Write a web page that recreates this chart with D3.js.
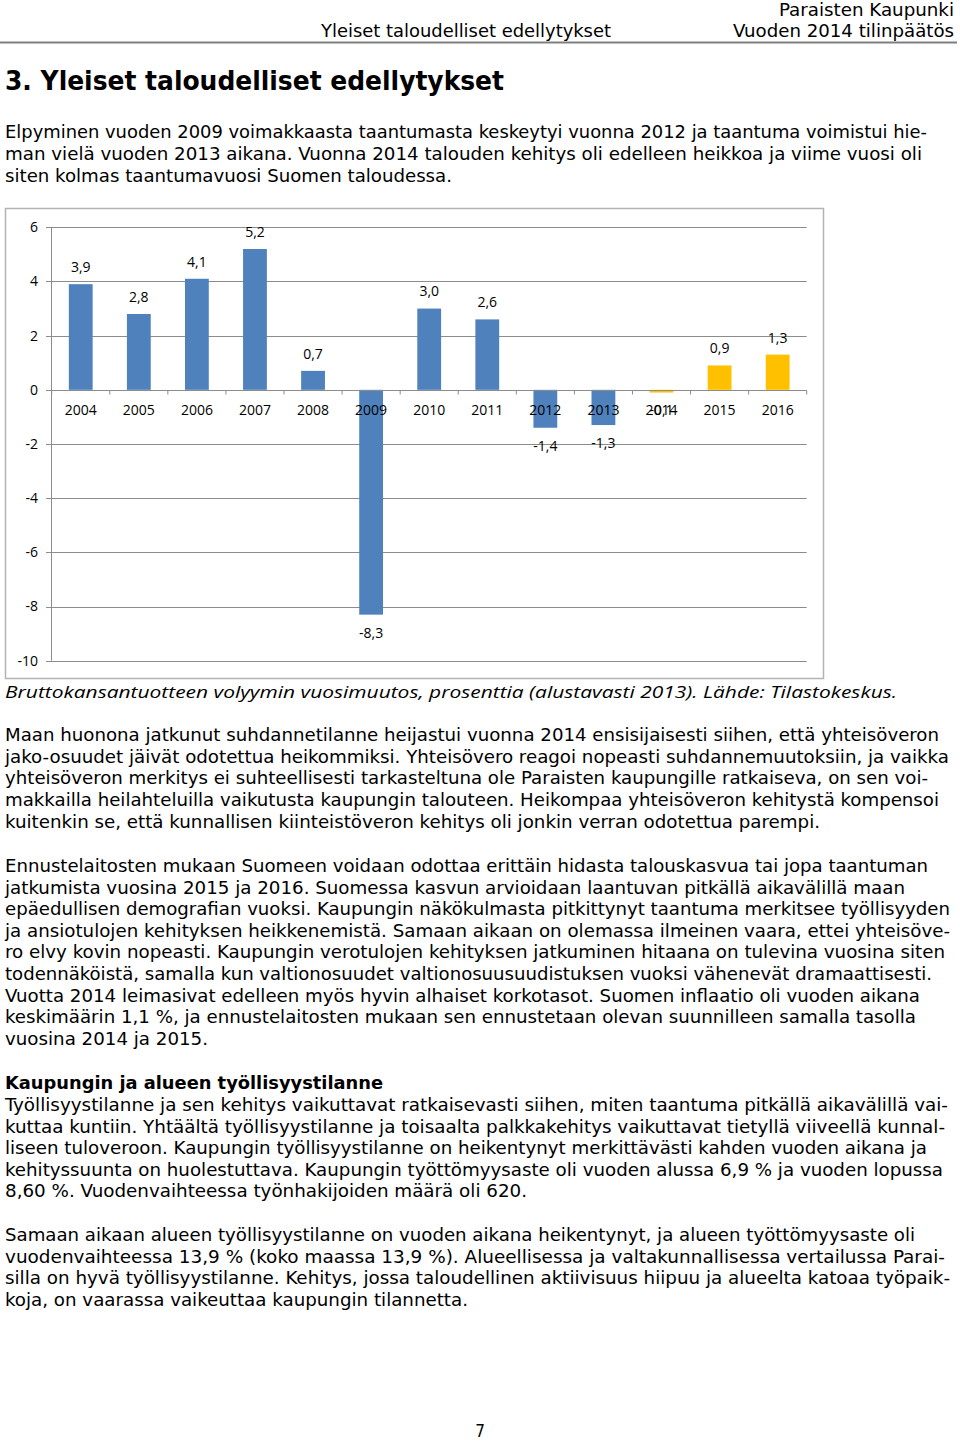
<!DOCTYPE html>
<html><head><meta charset="utf-8">
<script src="https://cdn.jsdelivr.net/npm/d3@7"></script>
<style>body{margin:0;background:#fff}svg{display:block}</style>
</head><body>
<svg id="page" width="960" height="1443"></svg>
<script>
// ---- chart data ----
const years = ["2004","2005","2006","2007","2008","2009","2010","2011","2012","2013","2014","2015","2016"];
const values = [3.9, 2.8, 4.1, 5.2, 0.7, -8.3, 3.0, 2.6, -1.4, -1.3, -0.1, 0.9, 1.3];
const forecast = [false,false,false,false,false,false,false,false,false,false,true,true,true];
const yTicks = [6, 4, 2, 0, -2, -4, -6, -8, -10];
const caption = "Bruttokansantuotteen volyymin vuosimuutos, prosenttia (alustavasti 2013). Lähde: Tilastokeskus.";

// ---- page text ----
const para1 = [
 ["Elpyminen vuoden 2009 voimakkaasta taantumasta keskeytyi vuonna 2012 ja taantuma voimistui hie-", 927],
 ["man vielä vuoden 2013 aikana. Vuonna 2014 talouden kehitys oli edelleen heikkoa ja viime vuosi oli", 922],
 ["siten kolmas taantumavuosi Suomen taloudessa.", 452]
];
const para2 = [
 ["Maan huonona jatkunut suhdannetilanne heijastui vuonna 2014 ensisijaisesti siihen, että yhteisöveron", 939],
 ["jako-osuudet jäivät odotettua heikommiksi. Yhteisövero reagoi nopeasti suhdannemuutoksiin, ja vaikka", 949],
 ["yhteisöveron merkitys ei suhteellisesti tarkasteltuna ole Paraisten kaupungille ratkaiseva, on sen voi-", 928],
 ["makkailla heilahteluilla vaikutusta kaupungin talouteen. Heikompaa yhteisöveron kehitystä kompensoi", 939],
 ["kuitenkin se, että kunnallisen kiinteistöveron kehitys oli jonkin verran odotettua parempi.", 820]
];
const para3 = [
 ["Ennustelaitosten mukaan Suomeen voidaan odottaa erittäin hidasta talouskasvua tai jopa taantuman", 928],
 ["jatkumista vuosina 2015 ja 2016. Suomessa kasvun arvioidaan laantuvan pitkällä aikavälillä maan", 905],
 ["epäedullisen demografian vuoksi. Kaupungin näkökulmasta pitkittynyt taantuma merkitsee työllisyyden", 950],
 ["ja ansiotulojen kehityksen heikkenemistä. Samaan aikaan on olemassa ilmeinen vaara, ettei yhteisöve-", 950],
 ["ro elvy kovin nopeasti. Kaupungin verotulojen kehityksen jatkuminen hitaana on tulevina vuosina siten", 945],
 ["todennäköistä, samalla kun valtionosuudet valtionosuusuudistuksen vuoksi vähenevät dramaattisesti.", 932],
 ["Vuotta 2014 leimasivat edelleen myös hyvin alhaiset korkotasot. Suomen inflaatio oli vuoden aikana", 920],
 ["keskimäärin 1,1 %, ja ennustelaitosten mukaan sen ennustetaan olevan suunnilleen samalla tasolla", 916],
 ["vuosina 2014 ja 2015.", 208]
];
const para4 = [
 ["Työllisyystilanne ja sen kehitys vaikuttavat ratkaisevasti siihen, miten taantuma pitkällä aikavälillä vai-", 948],
 ["kuttaa kuntiin. Yhtäältä työllisyystilanne ja toisaalta palkkakehitys vaikuttavat tietyllä viiveellä kunnal-", 945],
 ["liseen tuloveroon. Kaupungin työllisyystilanne on heikentynyt merkittävästi kahden vuoden aikana ja", 927],
 ["kehityssuunta on huolestuttava. Kaupungin työttömyysaste oli vuoden alussa 6,9 % ja vuoden lopussa", 943],
 ["8,60 %. Vuodenvaihteessa työnhakijoiden määrä oli 620.", 527]
];
const para5 = [
 ["Samaan aikaan alueen työllisyystilanne on vuoden aikana heikentynyt, ja alueen työttömyysaste oli", 915],
 ["vuodenvaihteessa 13,9 % (koko maassa 13,9 %). Alueellisessa ja valtakunnallisessa vertailussa Parai-", 945],
 ["silla on hyvä työllisyystilanne. Kehitys, jossa taloudellinen aktiivisuus hiipuu ja alueelta katoaa työpaik-", 950],
 ["koja, on vaarassa vaikeuttaa kaupungin tilannetta.", 468]
];

const svg = d3.select("#page");
const bodyFont = "'DejaVu Sans Condensed','DejaVu Sans',sans-serif";
const chartFont = "'Open Sans','Noto Sans',sans-serif";

function textLine(t, x, y, w, size, weight, anchor, style, family) {
  const el = svg.append("text").attr("x", x).attr("y", y)
    .attr("font-family", family || bodyFont).attr("font-size", size)
    .attr("font-weight", weight || "normal").attr("fill", "#000")
    .attr("text-anchor", anchor || "start").text(t);
  if (style) el.attr("font-style", style);
  if (w) el.attr("textLength", w).attr("lengthAdjust", "spacingAndGlyphs");
  return el;
}
function para(lines, y0, step) {
  lines.forEach((l, i) => textLine(l[0], 5, y0 + i * step, l[1] - 5, 17));
}

// header
textLine("Paraisten Kaupunki", 954, 16, 175, 18, null, "end");
textLine("Vuoden 2014 tilinpäätös", 954, 37, 221, 18, null, "end");
textLine("Yleiset taloudelliset edellytykset", 321, 37, 290, 18);
svg.append("line").attr("x1", 0).attr("x2", 957).attr("y1", 42.5).attr("y2", 42.5)
  .attr("stroke", "#7f7f7f").attr("stroke-width", 2);

textLine("3. Yleiset taloudelliset edellytykset", 5, 90, 499, 27, "bold");

para(para1, 138, 22);
para(para2, 741, 21.7);
para(para3, 872, 21.6);
textLine("Kaupungin ja alueen työllisyystilanne", 5, 1089, 378, 17, "bold");
para(para4, 1111, 21.6);
para(para5, 1241, 21.7);
textLine("7", 480, 1437, null, 17, null, "middle");

// ---- chart ----
svg.append("rect").attr("x", 5.5).attr("y", 208.5).attr("width", 818).attr("height", 470)
  .attr("fill", "#fff").attr("stroke", "#b3b3b3").attr("stroke-width", 1.5);

const x = d3.scaleBand().domain(years).range([51.7, 806.7]).paddingInner(0.59).paddingOuter(0.295);
const y = d3.scaleLinear().domain([-10, 6]).range([660.7, 227.3]);
const g = svg.append("g");

// gridlines
g.selectAll("line.grid").data(yTicks).join("line").attr("class", "grid")
  .attr("x1", 46).attr("x2", 806.7)
  .attr("y1", d => Math.round(y(d)) + 0.5).attr("y2", d => Math.round(y(d)) + 0.5)
  .attr("stroke", "#8c8c8c").attr("stroke-width", 1);
// y axis line
g.append("line").attr("x1", 51.5).attr("x2", 51.5).attr("y1", y(6)).attr("y2", y(-10))
  .attr("stroke", "#8c8c8c");
// y labels
g.selectAll("text.yl").data(yTicks).join("text").attr("class", "yl")
  .attr("x", 38).attr("y", d => y(d)).attr("dy", "0.35em").attr("text-anchor", "end")
  .attr("font-family", chartFont).attr("font-size", 14).attr("fill", "#000")
  .text(d => String(d));

// bars
g.selectAll("rect.bar").data(values).join("rect").attr("class", "bar")
  .attr("x", (d, i) => x(years[i])).attr("width", x.bandwidth())
  .attr("y", d => y(Math.max(0, d))).attr("height", d => Math.abs(y(d) - y(0)))
  .attr("fill", (d, i) => forecast[i] ? "#ffc000" : "#4f81bd");

// x axis line and ticks
const y0 = Math.round(y(0)) + 0.5;
g.append("line").attr("x1", 51.7).attr("x2", 806.7).attr("y1", y0).attr("y2", y0).attr("stroke", "#8c8c8c");
const bounds = years.map(yr => x(yr) - x.step() * x.paddingInner() / 2).concat([806.7]);
g.selectAll("line.xt").data(bounds).join("line").attr("class", "xt")
  .attr("x1", d => d).attr("x2", d => d).attr("y1", y0).attr("y2", y0 + 4).attr("stroke", "#8c8c8c");

// category labels
g.selectAll("text.xl").data(years).join("text").attr("class", "xl")
  .attr("x", d => x(d) + x.bandwidth() / 2).attr("y", 410).attr("dy", "0.35em")
  .attr("text-anchor", "middle").attr("font-family", chartFont).attr("font-size", 14).attr("fill", "#000")
  .text(d => d);

// value labels
const fmt = v => v.toFixed(1).replace(".", ",");
g.selectAll("text.vl").data(values).join("text").attr("class", "vl")
  .attr("x", (d, i) => x(years[i]) + x.bandwidth() / 2)
  .attr("y", d => d >= 0 ? y(d) - 17 : y(d) + 18).attr("dy", "0.35em")
  .attr("text-anchor", "middle").attr("font-family", chartFont).attr("font-size", 14).attr("fill", "#000")
  .text(d => fmt(d));

// caption
textLine(caption, 5, 698, 892, 17, null, "start", "italic", chartFont);
</script>
</body></html>
